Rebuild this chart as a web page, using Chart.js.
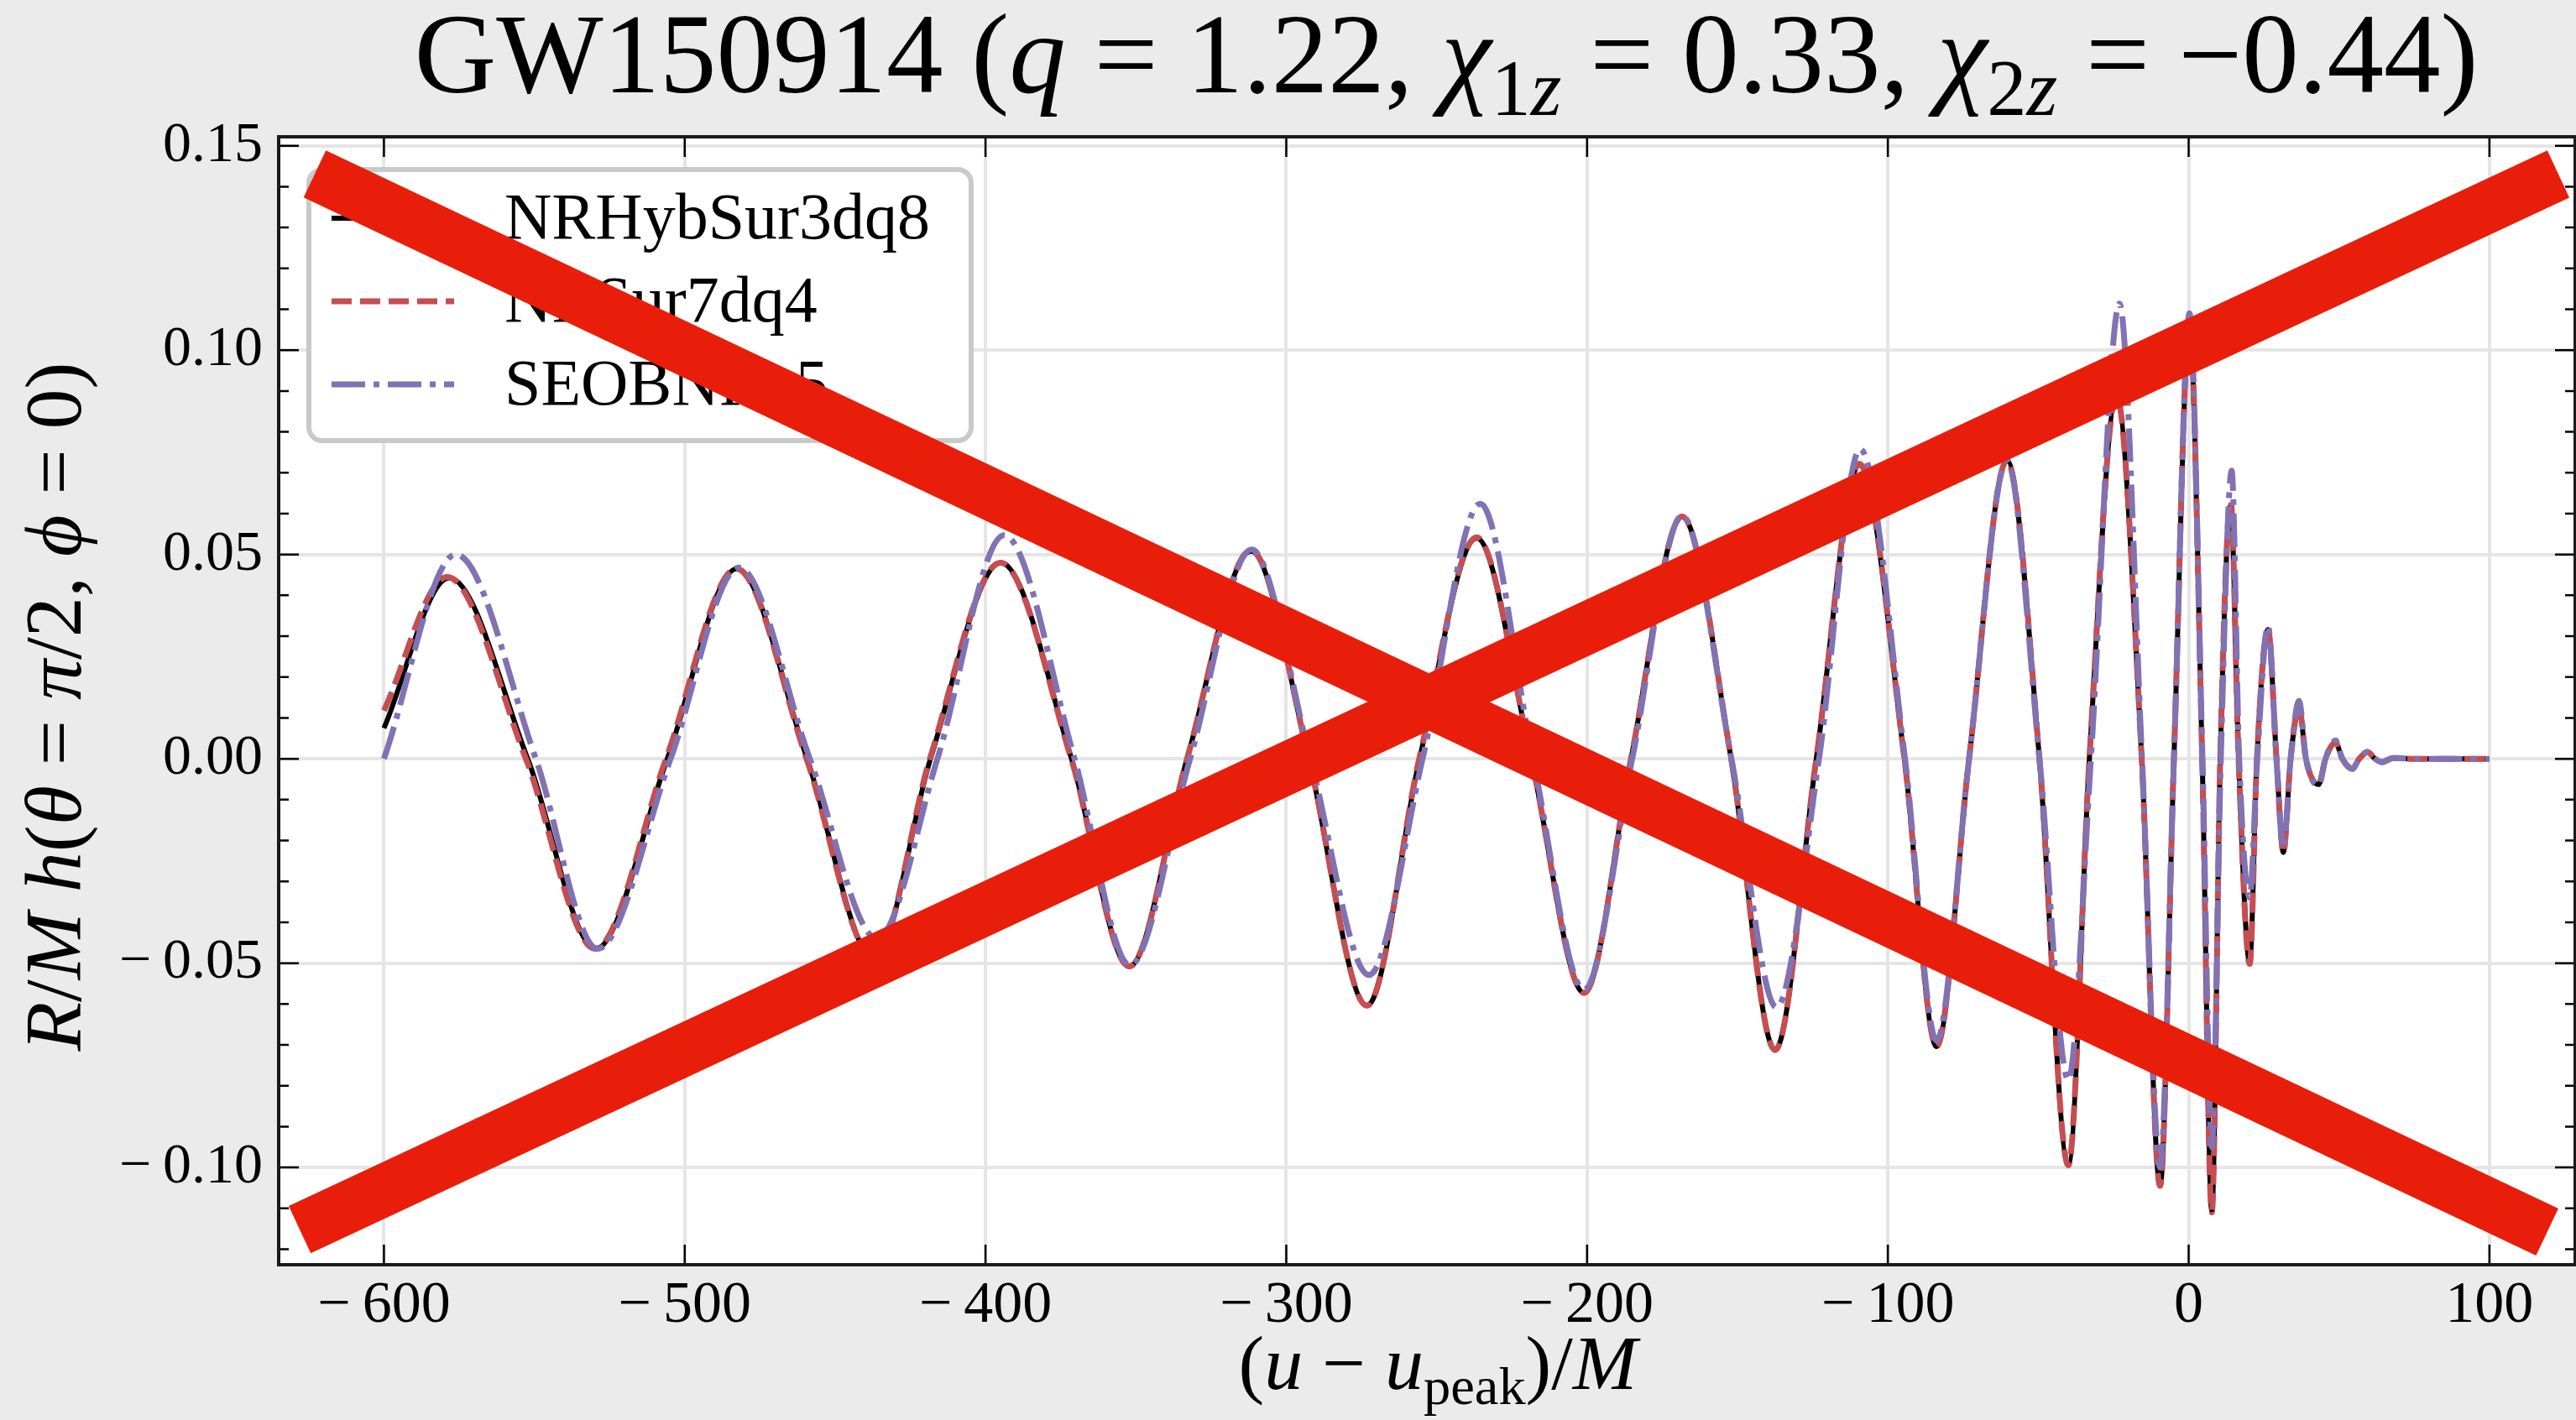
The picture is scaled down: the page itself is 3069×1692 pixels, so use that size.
<!DOCTYPE html>
<html>
<head>
<meta charset="utf-8">
<script src="https://cdn.jsdelivr.net/npm/chart.js@4.4.1/dist/chart.umd.min.js"></script>
<style>
  html, body { margin: 0; padding: 0; background: #ebebeb; }
  #wrap { width: 3069px; height: 1692px; }
</style>
</head>
<body>
<div id="wrap"><canvas id="waveChart" width="3069" height="1692"></canvas></div>
<script>
// values: (u - u_peak)/M and R/M h
const seriesNames = ['NRHybSur3dq8', 'NRSur7dq4', 'SEOBNRv5'];

const uNRHyb = [-600, -578.3, -552.2, -529.6, -505.8, -482.7, -459.3, -437, -418.3, -394.9, -371.4, -352.2, -333, -311.7, -292.5,
  -273.2, -255.7, -236.7, -218.6, -201, -185.4, -168.4, -152.1, -137.5, -123.8, -109.5, -94.5, -83.8, -73, -60.4, -49.6,
  -40, -33, -24, -15.6, -9.5, -4.9, 0.3, 4.5, 7.7, 10.5, 14, 16.6, 20.3, 22.7, 26.4, 29.2, 31.5, 33.9, 36.7, 39,
  43.2, 45.5, 48.8, 51.1, 54.4, 56.7, 59.5, 62, 64.2, 68, 75, 100];
const hNRHyb = [0.0075, 0.0443, 0, -0.0465, 0, 0.0465, 0, -0.049, 0, 0.048, 0, -0.0508, 0, 0.0508, 0,
  -0.0604, 0, 0.054, 0, -0.0573, 0, 0.0593, 0, -0.0713, 0, 0.072, 0, -0.0704, 0, 0.073, 0,
  -0.0993, 0, 0.0885, 0, -0.1045, 0, 0.106, 0, -0.1106, 0, 0.062, 0, -0.0498, 0, 0.0316, 0, -0.0229, 0, 0.0126, 0,
  -0.0063, 0, 0.004, 0, -0.0024, 0, 0.0016, 0, -0.0008, 0.0002, 0, 0];

const uNRSur = [-600, -579, -552.8, -529.8, -506.2, -482.8, -459.5, -437, -418.5, -395, -371.5, -352.2, -333, -311.7, -292.5,
  -273.2, -255.8, -236.7, -218.6, -201, -185.4, -168.4, -152.1, -137.5, -123.8, -109.5, -94.5, -83.8, -73, -60.4, -49.6,
  -40, -33, -24, -15.6, -9.5, -4.9, 0.3, 4.5, 7.7, 10.5, 14, 16.6, 20.3, 22.7, 26.4, 29.2, 31.5, 33.9, 36.7, 39,
  43.2, 45.5, 48.8, 51.1, 54.4, 56.7, 59.5, 62, 64.2, 68, 75, 100];
const hNRSur = [0.0118, 0.0445, 0, -0.0465, 0, 0.0465, 0, -0.049, 0, 0.048, 0, -0.0508, 0, 0.051, 0,
  -0.0604, 0, 0.0542, 0, -0.0573, 0, 0.0593, 0, -0.0713, 0, 0.0722, 0, -0.0704, 0, 0.073, 0,
  -0.0995, 0, 0.089, 0, -0.1045, 0, 0.107, 0, -0.111, 0, 0.063, 0, -0.0502, 0, 0.0318, 0, -0.023, 0, 0.0126, 0,
  -0.0063, 0, 0.004, 0, -0.0024, 0, 0.0016, 0, -0.0008, 0.0002, 0, 0];

const uSEOB = [-600, -576.1, -549.5, -529, -504.7, -482, -458.4, -436, -416, -393.8, -370.4, -352, -332, -311.5, -292,
  -272.5, -254.7, -235.5, -218, -201, -185, -168.4, -152, -137, -122.9, -109.2, -94.3, -83.8, -73, -60.4, -49.6,
  -40, -32.5, -23, -15.5, -9.5, -4.9, 0.3, 4.6, 7.7, 10.7, 14.3, 16.8, 20.3, 22.8, 26.4, 29.2, 31.5, 33.9, 36.7, 39,
  43.2, 45.5, 48.8, 51.1, 54.4, 56.7, 59.5, 62, 64.2, 68, 75, 100];
const hSEOB = [0.0, 0.050, 0, -0.0465, 0, 0.0468, 0, -0.044, 0, 0.0547, 0, -0.0505, 0, 0.0512, 0,
  -0.0529, 0, 0.0624, 0, -0.0565, 0, 0.0595, 0, -0.0608, 0, 0.0758, 0, -0.069, 0, 0.073, 0,
  -0.0786, 0, 0.1114, 0, -0.1, 0, 0.109, 0, -0.095, 0, 0.0705, 0, -0.034, 0, 0.0325, 0, -0.022, 0, 0.0142, 0,
  -0.0065, 0, 0.0045, 0, -0.0025, 0, 0.0017, 0, -0.0008, 0.0002, 0, 0];

// the big red cross over the figure, ends in data units
const crossDown = [[-623, 0.1431], [119.2, -0.1158]];
const crossUp = [[-628, -0.1152], [122.9, 0.1431]];

const xTickValues = [-600, -500, -400, -300, -200, -100, 0, 100];
const yTickValues = [-0.10, -0.05, 0.00, 0.05, 0.10, 0.15];
const yMinorTicks = [-0.12, -0.11, -0.09, -0.08, -0.07, -0.06, -0.04, -0.03, -0.02, -0.01,
  0.01, 0.02, 0.03, 0.04, 0.06, 0.07, 0.08, 0.09, 0.11, 0.12, 0.13, 0.14];

const SERIF = '"Liberation Serif", "DejaVu Serif", serif';

function toPoints(us, hs) {
  return us.map((u, i) => ({ x: u, y: hs[i] }));
}

function minusSign(s) {
  return s.replace('-', '\u2212\u2009');
}

function drawRuns(ctx, runs, x, y, size) {
  const pieces = runs.map(r => {
    const fs = r.sub ? size * 0.7 : size;
    const font = (r.it ? 'italic ' : '') + fs + 'px ' + SERIF;
    ctx.font = font;
    return { t: r.t, font, w: ctx.measureText(r.t).width, dy: r.sub ? size * 0.2 : 0 };
  });
  const total = pieces.reduce((s, p) => s + p.w, 0);
  let cx = x - total / 2;
  ctx.textAlign = 'left';
  ctx.textBaseline = 'alphabetic';
  pieces.forEach(p => {
    ctx.font = p.font;
    ctx.fillText(p.t, cx, y + p.dy);
    cx += p.w;
  });
}

const titleRuns = [
  { t: 'GW150914 (' }, { t: 'q', it: 1 }, { t: ' = 1.22, ' },
  { t: '\u03c7', it: 1 }, { t: '1', sub: 1 }, { t: 'z', sub: 1, it: 1 }, { t: ' = 0.33, ' },
  { t: '\u03c7', it: 1 }, { t: '2', sub: 1 }, { t: 'z', sub: 1, it: 1 }, { t: ' = \u22120.44)' }
];
const xLabelRuns = [
  { t: '(' }, { t: 'u', it: 1 }, { t: ' \u2212 ' }, { t: 'u', it: 1 }, { t: 'peak', sub: 1 }, { t: ')/' }, { t: 'M', it: 1 }
];
const yLabelRuns = [
  { t: 'R', it: 1 }, { t: '/' }, { t: 'M', it: 1 }, { t: ' ' }, { t: 'h', it: 1 }, { t: '(' },
  { t: '\u03b8', it: 1 }, { t: ' = ' }, { t: '\u03c0', it: 1 }, { t: '/2, ' }, { t: '\u03d5', it: 1 }, { t: ' = 0)' }
];

const backdrop = {
  id: 'backdrop',
  beforeDraw(chart) {
    const { ctx, chartArea: a } = chart;
    ctx.save();
    ctx.fillStyle = '#ebebeb';
    ctx.fillRect(0, 0, chart.width, chart.height);
    ctx.fillStyle = '#ffffff';
    ctx.fillRect(a.left, a.top, a.right - a.left, a.bottom - a.top);
    ctx.restore();
  }
};

const legendBox = {
  id: 'legendBox',
  beforeDatasetsDraw(chart) {
    const { ctx, chartArea: a } = chart;
    const bx = a.left + 36, by = a.top + 39, bw = 789, bh = 323;
    ctx.save();
    ctx.beginPath();
    ctx.roundRect(bx, by, bw, bh, 16);
    ctx.fillStyle = '#ffffff';
    ctx.fill();
    ctx.lineWidth = 6;
    ctx.strokeStyle = '#c9c9c9';
    ctx.stroke();
    for (let i = 0; i < 3; i++) {
      const ds = chart.data.datasets[i];
      const rowY = by + 58 + i * 99;
      ctx.beginPath();
      ctx.setLineDash(ds.borderDash || []);
      ctx.strokeStyle = ds.borderColor;
      ctx.lineWidth = ds.borderWidth;
      ctx.moveTo(bx + 27, rowY);
      ctx.lineTo(bx + 173, rowY);
      ctx.stroke();
      ctx.setLineDash([]);
      ctx.fillStyle = '#000';
      ctx.font = '78px ' + SERIF;
      ctx.textAlign = 'left';
      ctx.textBaseline = 'alphabetic';
      ctx.fillText(seriesNames[i], bx + 233, rowY + 24);
    }
    ctx.restore();
  }
};

const frameTicks = {
  id: 'frameTicks',
  afterDatasetsDraw(chart) {
    const { ctx, chartArea: a, scales: { x, y } } = chart;
    ctx.save();
    ctx.strokeStyle = '#000';
    ctx.lineWidth = 2.5;
    ctx.beginPath();
    xTickValues.forEach(v => {
      const px = x.getPixelForValue(v);
      ctx.moveTo(px, a.bottom); ctx.lineTo(px, a.bottom - 24);
      ctx.moveTo(px, a.top); ctx.lineTo(px, a.top + 24);
    });
    yTickValues.forEach(v => {
      const py = y.getPixelForValue(v);
      ctx.moveTo(a.left, py); ctx.lineTo(a.left + 24, py);
      ctx.moveTo(a.right, py); ctx.lineTo(a.right - 24, py);
    });
    yMinorTicks.forEach(v => {
      const py = y.getPixelForValue(v);
      ctx.moveTo(a.left, py); ctx.lineTo(a.left + 12, py);
      ctx.moveTo(a.right, py); ctx.lineTo(a.right - 12, py);
    });
    ctx.stroke();
    ctx.lineWidth = 4;
    ctx.strokeStyle = '#1a1a1a';
    ctx.strokeRect(a.left, a.top, a.right - a.left, a.bottom - a.top);
    ctx.restore();
  }
};

const labels = {
  id: 'labels',
  afterDraw(chart) {
    const ctx = chart.ctx;
    ctx.save();
    ctx.fillStyle = '#000';
    drawRuns(ctx, titleRuns, 1723, 110, 135);
    drawRuns(ctx, xLabelRuns, 1713, 1655, 92);
    ctx.translate(96, 842);
    ctx.rotate(-Math.PI / 2);
    drawRuns(ctx, yLabelRuns, 0, 0, 96);
    ctx.restore();
  }
};

function crossSet(pair) {
  return {
    data: pair.map(p => ({ x: p[0], y: p[1] })),
    borderColor: '#e81e0a',
    borderWidth: 62,
    borderCapStyle: 'butt',
    pointRadius: 0,
    tension: 0,
    clip: false,
    order: 0
  };
}

const ctx = document.getElementById('waveChart');

new Chart(ctx, {
  type: 'line',
  data: {
    datasets: [
      {
        label: seriesNames[0],
        data: toPoints(uNRHyb, hNRHyb),
        borderColor: '#000000',
        borderWidth: 6,
        order: 3
      },
      {
        label: seriesNames[1],
        data: toPoints(uNRSur, hNRSur),
        borderColor: '#c44e52',
        borderWidth: 7,
        borderDash: [24, 10],
        order: 2
      },
      {
        label: seriesNames[2],
        data: toPoints(uSEOB, hSEOB),
        borderColor: '#8172b2',
        borderWidth: 7,
        borderDash: [40, 10, 7, 10],
        order: 1
      },
      crossSet(crossDown),
      crossSet(crossUp)
    ]
  },
  options: {
    responsive: false,
    devicePixelRatio: 1,
    animation: false,
    events: [],
    datasets: {
      line: { pointRadius: 0, cubicInterpolationMode: 'monotone', fill: false, borderJoinStyle: 'round' }
    },
    layout: { padding: { top: 163, right: 1, left: 0, bottom: 0 } },
    plugins: { legend: { display: false }, tooltip: { enabled: false }, title: { display: false } },
    scales: {
      x: {
        type: 'linear',
        min: -635,
        max: 128.5,
        afterBuildTicks: s => { s.ticks = xTickValues.map(v => ({ value: v })); },
        afterFit: s => { s.height = 185; },
        grid: { color: '#e5e5e5', lineWidth: 4, drawTicks: false },
        border: { display: false },
        ticks: {
          color: '#000',
          padding: 8,
          maxRotation: 0,
          font: { family: SERIF, size: 70 },
          callback: v => minusSign(String(Math.round(v)))
        }
      },
      y: {
        type: 'linear',
        min: -0.1238,
        max: 0.1522,
        afterBuildTicks: s => { s.ticks = yTickValues.map(v => ({ value: v })); },
        afterFit: s => { s.width = 332; },
        grid: { color: '#e5e5e5', lineWidth: 4, drawTicks: false },
        border: { display: false },
        ticks: {
          color: '#000',
          padding: 19,
          font: { family: SERIF, size: 68 },
          callback: v => minusSign((Math.abs(v) < 1e-9 ? 0 : v).toFixed(2))
        }
      }
    }
  },
  plugins: [backdrop, legendBox, frameTicks, labels]
});
</script>
</body>
</html>
